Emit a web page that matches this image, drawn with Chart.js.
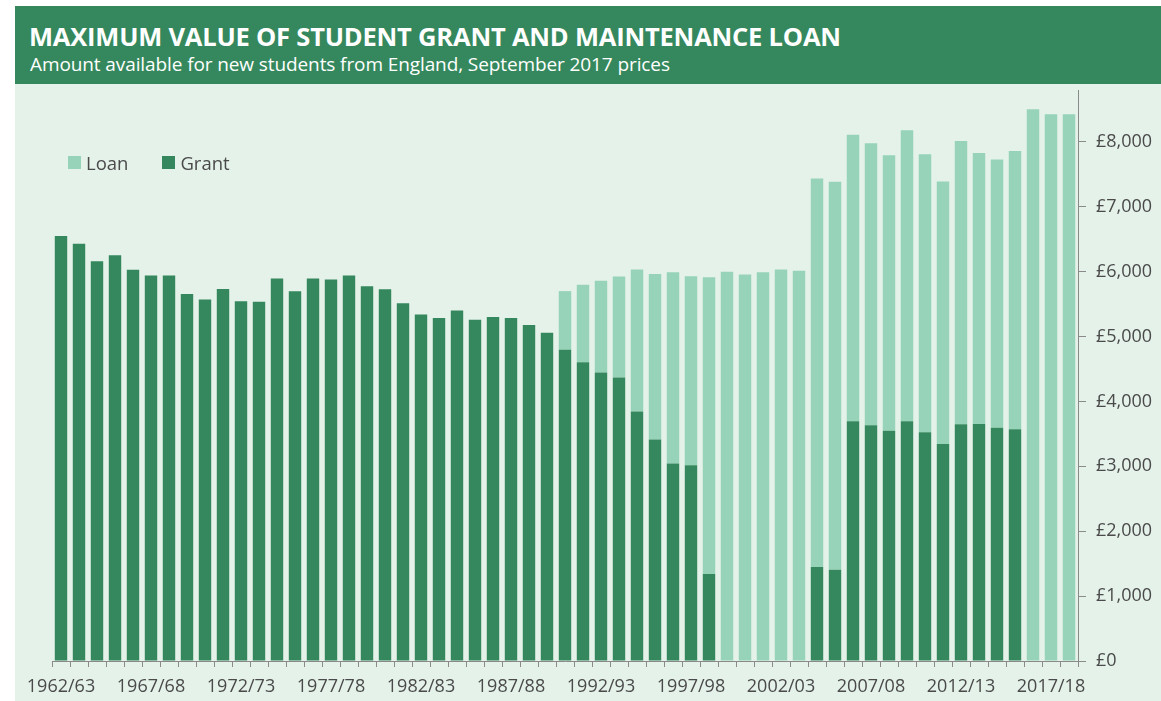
<!DOCTYPE html>
<html>
<head>
<meta charset="utf-8">
<script src="https://cdn.jsdelivr.net/npm/chart.js@4.4.1/dist/chart.umd.min.js"></script>
<style>
  html, body { margin: 0; padding: 0; background: #fff; }
  body { width: 1161px; height: 701px; position: relative; overflow: hidden; font-family: "Open Sans", sans-serif; }
  #panel { position: absolute; left: 15px; top: 84px; right: 0; bottom: 0; background: #e4f2ea; }
  #header { position: absolute; left: 15px; top: 6px; right: 0; height: 78px; background: #35885d; color: #fff; }
  #header h1 { margin: 0; position: absolute; left: 14px; top: 13px; font-size: 25.5px; font-weight: 700; letter-spacing: -0.2px; white-space: nowrap; }
  #header p { margin: 0; position: absolute; left: 15px; top: 45px; font-size: 19px; letter-spacing: -0.1px; white-space: nowrap; }
  #wrap { position: absolute; left: 0; top: 0; width: 1161px; height: 701px; }
  #legend { position: absolute; left: 68px; top: 150px; font-size: 18.5px; color: #4a4a4a; display: flex; gap: 34px; }
  #legend span.key { display: inline-flex; align-items: center; }
  #legend i { display: inline-block; width: 13px; height: 13px; margin-right: 5px; }
</style>
</head>
<body>
<div id="panel"></div>
<div id="wrap"><canvas id="grantChart" width="1161" height="701"></canvas></div>
<div id="header">
  <h1>MAXIMUM VALUE OF STUDENT GRANT AND MAINTENANCE LOAN</h1>
  <p>Amount available for new students from England, September 2017 prices</p>
</div>
<div id="legend"></div>
<script>
// academic years, one bar each
const years = [
  '1962/63','1963/64','1964/65','1965/66','1966/67','1967/68','1968/69','1969/70','1970/71','1971/72',
  '1972/73','1973/74','1974/75','1975/76','1976/77','1977/78','1978/79','1979/80','1980/81','1981/82',
  '1982/83','1983/84','1984/85','1985/86','1986/87','1987/88','1988/89','1989/90','1990/91','1991/92',
  '1992/93','1993/94','1994/95','1995/96','1996/97','1997/98','1998/99','1999/00','2000/01','2001/02',
  '2002/03','2003/04','2004/05','2005/06','2006/07','2007/08','2008/09','2009/10','2010/11','2011/12',
  '2012/13','2013/14','2014/15','2015/16','2016/17','2017/18','2018/19'
];

// maximum grant, £ (2017 prices)
const grant = [
  6550, 6430, 6160, 6255, 6030, 5940, 5940, 5655, 5570, 5735,
  5545, 5535, 5895, 5700, 5895, 5880, 5940, 5775, 5730, 5515,
  5340, 5285, 5400, 5260, 5300, 5285, 5180, 5060, 4795, 4605,
  4445, 4370, 3845, 3415, 3045, 3015, 1340, null, null, null,
  null, null, 1447, 1407, 3693, 3635, 3549, 3693, 3525, 3346,
  3647, 3653, 3595, 3572, null, null, null
];

// maximum maintenance loan, £ (2017 prices)
const loan = [
  null, null, null, null, null, null, null, null, null, null,
  null, null, null, null, null, null, null, null, null, null,
  null, null, null, null, null, null, null, null, 905, 1195,
  1415, 1555, 2190, 2550, 2945, 2915, 4575, 6000, 5955, 5990,
  6035, 6015, 5988, 5978, 4417, 4345, 4246, 4487, 4285, 4044,
  4368, 4177, 4135, 4288, 8505, 8425, 8425
];

const yTicks = [0, 1000, 2000, 3000, 4000, 5000, 6000, 7000, 8000];

const GRANT_COLOR = '#35885d';
const LOAN_COLOR = '#97d3b8';
const TEXT_COLOR = '#4a4a4a';
const AXIS_COLOR = '#8a8a8a';

const ctx = document.getElementById('grantChart').getContext('2d');
const chart = new Chart(ctx, {
  type: 'bar',
  data: {
    labels: years,
    datasets: [
      { label: 'Grant', data: grant, backgroundColor: GRANT_COLOR, borderWidth: 0 },
      { label: 'Loan', data: loan, backgroundColor: LOAN_COLOR, borderWidth: 0 }
    ]
  },
  options: {
    responsive: false,
    animation: false,
    layout: { padding: { left: 52, top: 90, right: 0, bottom: 0 } },
    datasets: { bar: { categoryPercentage: 1, barPercentage: 0.69 } },
    plugins: {
      legend: { display: false },
      tooltip: { enabled: false }
    },
    scales: {
      x: {
        stacked: true,
        grid: { display: true, drawOnChartArea: false, drawTicks: true, tickLength: 6, color: AXIS_COLOR, offset: true },
        border: { display: true, color: AXIS_COLOR, width: 1 },
        ticks: {
          autoSkip: false,
          maxRotation: 0,
          padding: 9,
          color: TEXT_COLOR,
          font: { family: 'Open Sans', size: 18 },
          callback: (v, i) => (i % 5 === 0 ? years[i] : '')
        },
        afterFit: (scale) => { scale.height = 40; }
      },
      y: {
        stacked: true,
        position: 'right',
        min: 0,
        max: 8800,
        grid: { display: true, drawOnChartArea: false, drawTicks: true, tickLength: 8, color: AXIS_COLOR },
        border: { display: true, color: AXIS_COLOR, width: 1 },
        afterBuildTicks: (scale) => { scale.ticks = yTicks.map(v => ({ value: v })); },
        ticks: {
          padding: 10,
          color: TEXT_COLOR,
          font: { family: 'Open Sans', size: 18 },
          callback: (v) => '£' + v.toLocaleString('en-GB')
        },
        afterFit: (scale) => { scale.width = 83; }
      }
    }
  }
});

// legend, loan listed first
const legendEl = document.getElementById('legend');
chart.data.datasets.slice().reverse().forEach(ds => {
  const item = document.createElement('span');
  item.className = 'key';
  item.innerHTML = '<i style="background:' + ds.backgroundColor + '"></i>' + ds.label;
  legendEl.appendChild(item);
});
</script>
</body>
</html>
